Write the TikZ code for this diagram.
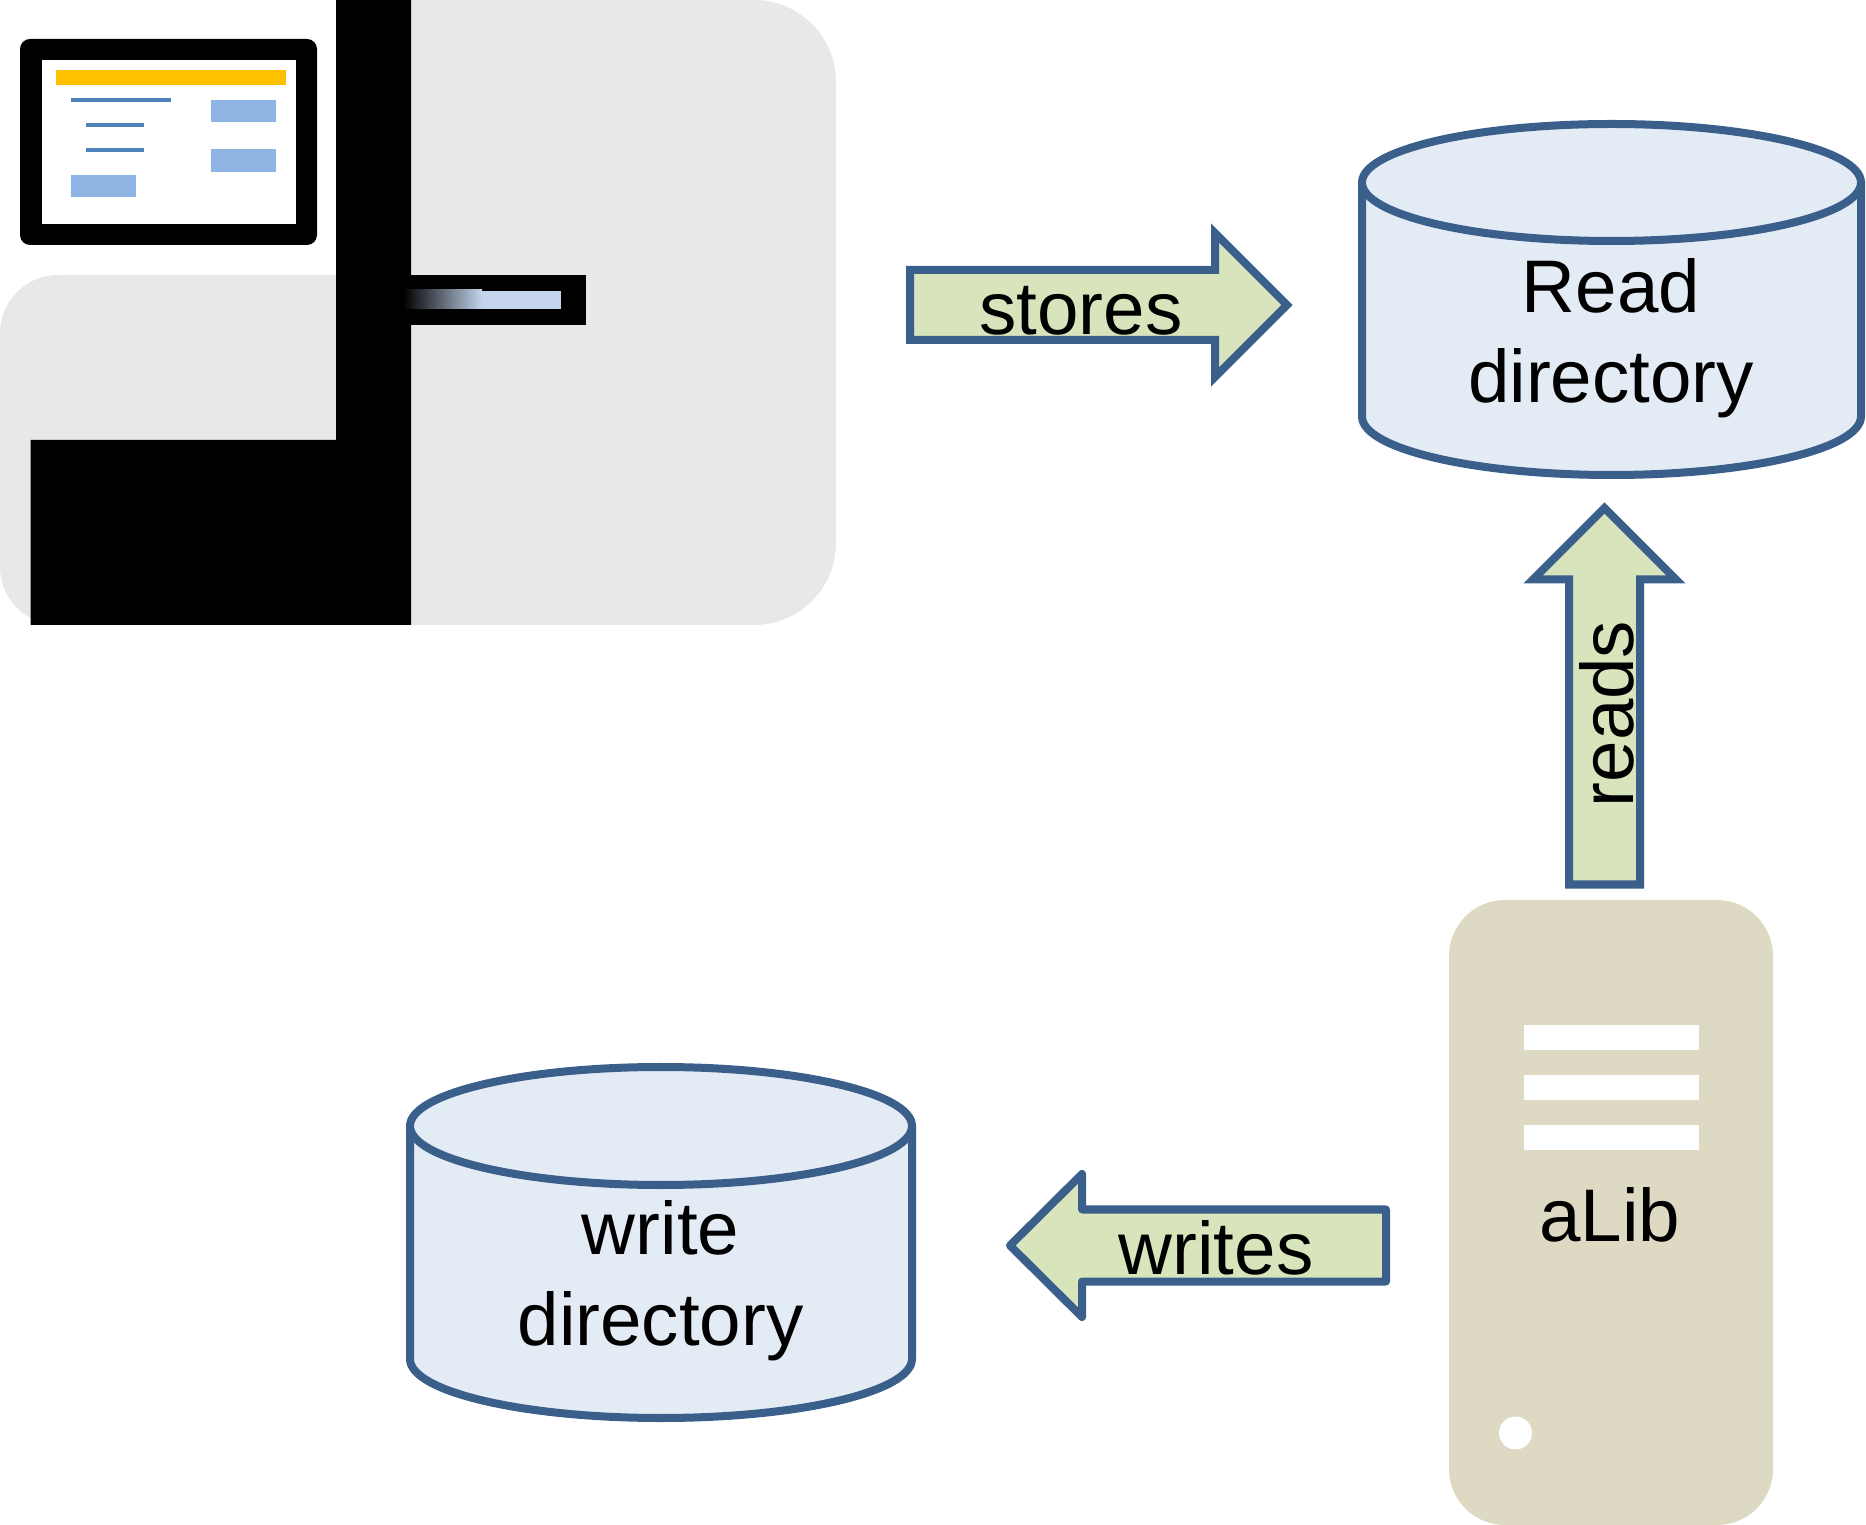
\documentclass[tikz,border=0pt]{standalone}
\usepackage{fontspec}
\setmainfont{Liberation Sans}
\usepackage{xcolor}
\usetikzlibrary{positioning}
\definecolor{panelgrey}{HTML}{E9E8E6}
\definecolor{cylblue}{HTML}{E3EBF5}
\definecolor{edgeblue}{HTML}{3A5F8B}
\definecolor{arrowgreen}{HTML}{D8E4BC}
\definecolor{servertan}{HTML}{DDD9C3}
\definecolor{barblue}{HTML}{8EB4E3}
\definecolor{lineblue}{HTML}{4F81BD}
\definecolor{slotblue}{HTML}{C3D4EC}
\definecolor{baryellow}{HTML}{FFC000}

\begin{document}
\begin{tikzpicture}[x=0.01cm,y=-0.01cm]
            \tikzset{cyl/.style = {draw=edgeblue, fill=cylblue, line width=0.08cm}}
            \tikzset{blockarrow/.style = {draw=edgeblue, fill=arrowgreen, line width=0.08cm}}
            \tikzset{label/.style = {anchor=base, align=center, inner sep=0pt, font=\fontsize{21.2}{25.6}\selectfont}}
            \tikzset{screenline/.style = {draw=lineblue, line width=0.035cm}}

            \useasboundingbox (0,0) rectangle (1866,1525);

            % instrument
            \fill[panelgrey] (336,275) [rounded corners=0.58cm] -- (0,275) -- (0,625) [rounded corners=0.82cm] -- (836,625) -- (836,0) [sharp corners] -- (336,0) -- cycle;
            \fill[black] (30.5,440) -- (336,440) -- (336,0) -- (411,0) -- (411,625) -- (30.5,625) -- cycle;
            \fill[black] (411,275) rectangle (586,325);
            \shade[left color=black, right color=slotblue] (403,290) rectangle (482,309);
            \fill[slotblue] (482,291) rectangle (561,309);

            % screen
            \fill[black, rounded corners=0.1cm] (20,39) rectangle (317,245);
            \fill[white] (41.5,60.5) rectangle (296,224);
            \fill[baryellow] (56,70) rectangle (286,85);
            \draw[screenline] (71,100) -- (171,100);
            \draw[screenline] (86,125) -- (144,125);
            \draw[screenline] (86,150) -- (144,150);
            \fill[barblue] (211,100) rectangle (276,122);
            \fill[barblue] (211,149.5) rectangle (276,172);
            \fill[barblue] (71,175) rectangle (136,197.5);

            % read directory
            \draw[cyl] (1362,182.5) -- (1362,416.5) arc[start angle=180, end angle=360, x radius=249.5, y radius=-58.5] -- (1861,182.5);
            \draw[cyl] (1611.5,182.5) ellipse[x radius=249.5, y radius=58.5];
            \node[label] (readdir) at (1611,402.5) {Read\\directory};

            % stores
            \draw[blockarrow] (910,270) -- (1215,270) -- (1215,233) -- (1287,305) -- (1215,377) -- (1215,340) -- (910,340) -- cycle;
            \node[label] (stores) at (1081,334.5) {stores};

            % reads
            \draw[blockarrow] (1569,884.5) -- (1569,579.5) -- (1533,579.5) -- (1604.5,508) -- (1676,579.5) -- (1640,579.5) -- (1640,884.5) -- cycle;
            \node[label, rotate=90] (reads) at (1633.5,714) {reads};

            % server
            \fill[servertan, rounded corners=0.56cm] (1449,900) rectangle (1773,1525);
            \fill[white] (1523.5,1025) rectangle (1698.5,1050);
            \fill[white] (1523.5,1075) rectangle (1698.5,1100);
            \fill[white] (1523.5,1125) rectangle (1698.5,1150);
            \fill[white] (1515.5,1433) circle[radius=16.5];
            \node[label] (alib) at (1610,1241) {aLib};

            % writes
            \draw[blockarrow, line join=round] (1386,1209.5) -- (1082,1209.5) -- (1082,1174) -- (1010,1245.5) -- (1082,1317) -- (1082,1281.5) -- (1386,1281.5) -- cycle;
            \node[label] (writes) at (1216,1274) {writes};

            % write directory
            \draw[cyl] (410,1126) -- (410,1359) arc[start angle=180, end angle=360, x radius=251, y radius=-59] -- (912,1126);
            \draw[cyl] (661,1126) ellipse[x radius=251, y radius=59];
            \node[label] (writedir) at (660.5,1345) {write\\directory};

\end{tikzpicture}
\end{document}
